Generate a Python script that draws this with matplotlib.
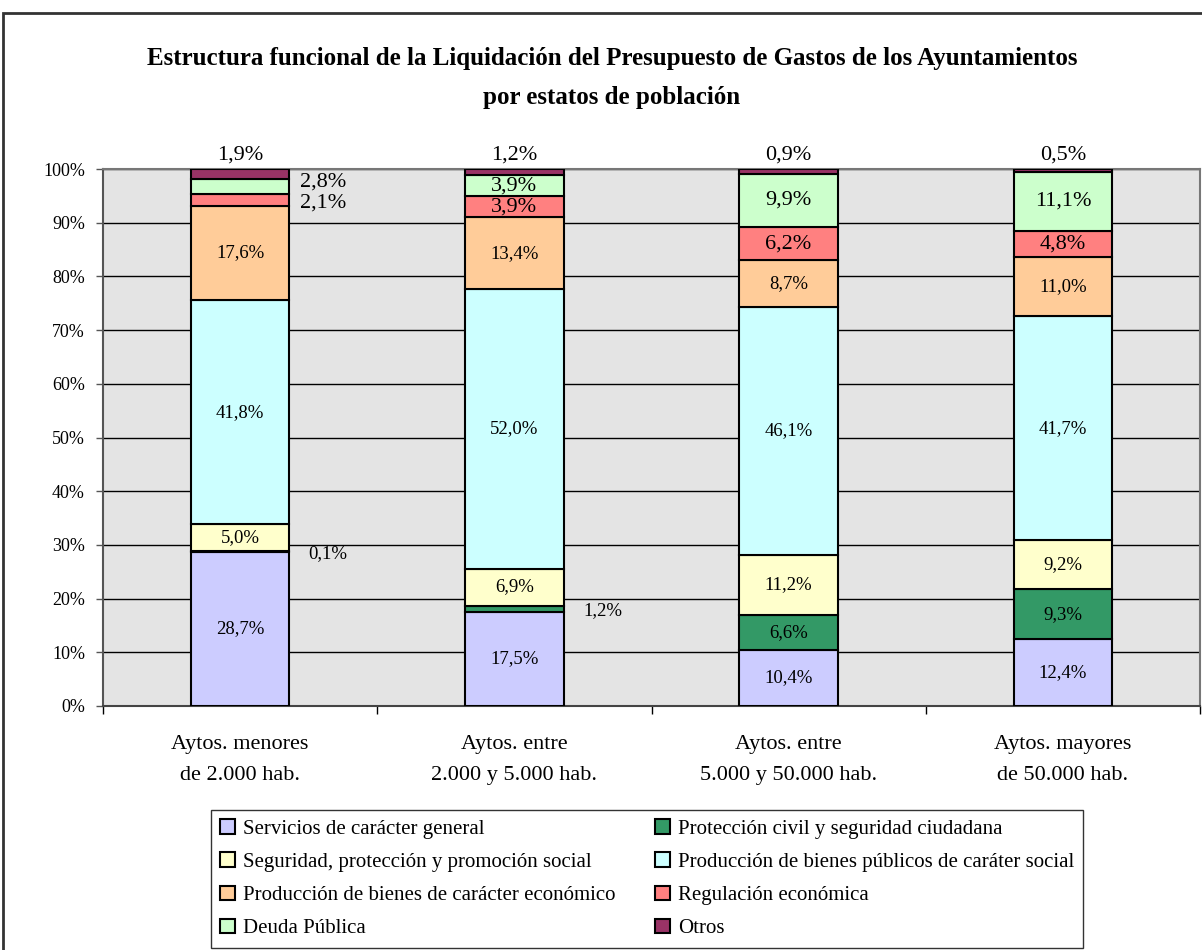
import numpy as np
import matplotlib.pyplot as plt
from matplotlib.patches import Rectangle

plt.rcParams['font.family'] = ['Liberation Serif', 'DejaVu Serif']

categories = ['Aytos. menores\nde 2.000 hab.', 'Aytos. entre\n2.000 y 5.000 hab.',
              'Aytos. entre\n5.000 y 50.000 hab.', 'Aytos. mayores\nde 50.000 hab.']

series = ['Servicios de carácter general',
          'Protección civil y seguridad ciudadana',
          'Seguridad, protección y promoción social',
          'Producción de bienes públicos de caráter social',
          'Producción de bienes de carácter económico',
          'Regulación económica',
          'Deuda Pública',
          'Otros']

servicios = [28.7, 17.5, 10.4, 12.4]
proteccion = [0.1, 1.2, 6.6, 9.3]
seguridad = [5.0, 6.9, 11.2, 9.2]
prod_social = [41.8, 52.0, 46.1, 41.7]
prod_economico = [17.6, 13.4, 8.7, 11.0]
regulacion = [2.1, 3.9, 6.2, 4.8]
deuda = [2.8, 3.9, 9.9, 11.1]
otros = [1.9, 1.2, 0.9, 0.5]

values = [servicios, proteccion, seguridad, prod_social,
          prod_economico, regulacion, deuda, otros]
colors = ['#CCCCFF', '#339966', '#FFFFCC', '#CCFFFF',
          '#FFCC99', '#FF8080', '#CCFFCC', '#993366']

fig = plt.figure(figsize=(12.02, 9.5), dpi=100)
ax = fig.add_axes([103 / 1202, 1 - 706 / 950, 1097 / 1202, 537 / 950])
ax.set_facecolor('#E4E4E4')

x = np.arange(len(categories))
width = 0.36
bottom = np.zeros(len(categories))
handles = []
for i, (name, vals, col) in enumerate(zip(series, values, colors)):
    vals = np.array(vals)
    b = ax.bar(x, vals, width, bottom=bottom, color=col, edgecolor='black',
               linewidth=1.5, label=name, zorder=3)
    handles.append(b)
    for j, v in enumerate(vals):
        txt = ('%.1f%%' % v).replace('.', ',')
        mid = bottom[j] + v / 2
        big = i >= 5
        fs = 16 if big else 13.5
        if i == 7:
            ax.text(x[j], 100 + 2.6, txt, ha='center', va='center', fontsize=16,
                    clip_on=False)
        elif v < 3 and j == 0 and i in (5, 6):
            off = 0.8 if i == 6 else -0.6
            ax.text(x[j] + 0.22, mid + off, txt, ha='left', va='center', fontsize=16)
        elif v < 1.5:
            ax.text(x[j] + 0.25, mid - 0.3, txt, ha='left', va='center', fontsize=13.5)
        else:
            ax.text(x[j], mid, txt, ha='center', va='center', fontsize=fs, zorder=4)
    bottom += vals

ax.set_xlim(-0.5, len(categories) - 0.5)
ax.set_ylim(0, 100)
ax.set_yticks(np.arange(0, 101, 10))
ax.set_yticklabels(['%d%%' % v for v in range(0, 101, 10)], fontsize=13)
ax.yaxis.grid(True, color='black', linewidth=1, zorder=1)
ax.set_axisbelow(True)
ax.tick_params(axis='y', length=5, width=1, pad=8, color='#555555')

ax.set_xticks(np.arange(-0.5, len(categories)), labels=[])
ax.tick_params(axis='x', which='major', length=6, width=1, direction='out')
ax.set_xticks(x, labels=categories, minor=True)
ax.tick_params(axis='x', which='minor', length=0, pad=21, labelsize=16)
for lab in ax.get_xticklabels(minor=True):
    lab.set_linespacing(1.85)

for s in ax.spines.values():
    s.set_color('#777777')
    s.set_linewidth(1.5)
ax.spines['bottom'].set_color('#444444')
ax.spines['left'].set_color('#555555')

fig.text(612 / 1202, 1 - 78 / 950,
         'Estructura funcional de la Liquidación del Presupuesto de Gastos de los Ayuntamientos\n'
         'por estatos de población',
         ha='center', va='center', fontsize=18, fontweight='bold', linespacing=1.9)

order = [0, 2, 4, 6, 1, 3, 5, 7]
leg = fig.legend([handles[k] for k in order], [series[k] for k in order],
                 loc='upper center', bbox_to_anchor=(647 / 1202, 1 - 810 / 950),
                 ncol=2, fontsize=15, frameon=True, fancybox=False,
                 edgecolor='black', handlelength=0.7, handleheight=0.7,
                 handletextpad=0.4, columnspacing=1.9, labelspacing=0.65,
                 borderpad=0.45, borderaxespad=0)
leg.get_frame().set_linewidth(1)

fig.patches.append(Rectangle((3 / 1202, -0.1), 1.2, 1.1 - 13 / 950,
                             transform=fig.transFigure, fill=False,
                             edgecolor='#333333', linewidth=2))

fig.savefig('out.png', dpi=100)
